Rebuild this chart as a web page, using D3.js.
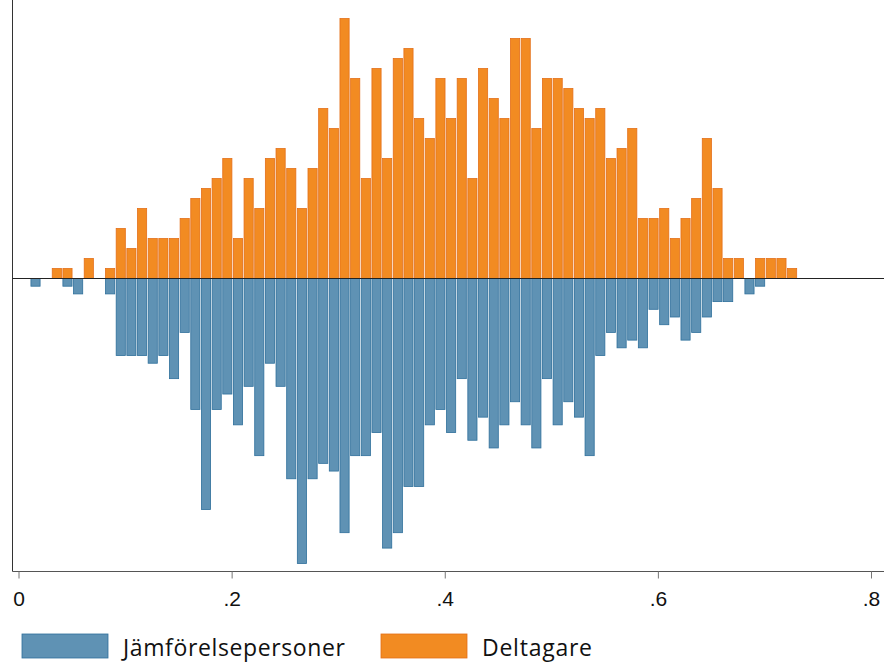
<!DOCTYPE html>
<html>
<head>
<meta charset="utf-8">
<script src="https://cdn.jsdelivr.net/npm/d3@7"></script>
<style>
  body { margin: 0; background: #fff; }
  svg { font-family: "Open Sans", "Noto Sans", sans-serif; }
</style>
</head>
<body>
<svg id="chart" width="885" height="665"></svg>
<script>
// bin starts: 0.0012 + 0.01 * i
const binWidth = 0.01;
const binOffset = 0.0012;

// Deltagare counts, bins 3..72
const deltagareStart = 3;
const deltagare = [1, 1, 0, 2, 0, 1, 5, 3, 7, 4, 4, 4, 6, 8, 9, 10, 12, 4, 10, 7,
  12, 13, 11, 7, 11, 17, 15, 26, 20, 10, 21, 12, 22, 23, 16, 14, 20, 16, 20, 10,
  21, 18, 16, 24, 24, 15, 20, 20, 19, 17, 16, 17, 12, 13, 15, 6, 6, 7, 4, 6,
  8, 14, 9, 2, 2, 0, 2, 2, 2, 1];

// Jämförelsepersoner counts, bins 1..69
const jamforStart = 1;
const jamfor = [1, 0, 0, 1, 2, 0, 0, 2, 10, 10, 10, 11, 10, 13, 7, 17, 30, 17, 15, 19,
  14, 23, 11, 14, 26, 37, 26, 24, 25, 33, 23, 23, 20, 35, 33, 27, 27, 19, 17, 20,
  13, 21, 18, 22, 19, 16, 19, 22, 13, 19, 16, 18, 23, 10, 7, 9, 8, 9, 4, 6,
  5, 8, 7, 5, 3, 3, 0, 2, 1];

const xTicks = [0, 0.2, 0.4, 0.6, 0.8];
const xTickLabels = ["0", ".2", ".4", ".6", ".8"];
const legendLabels = ["Jämförelsepersoner", "Deltagare"];

const blueFill = "#5f92b4", blueEdge = "#2e6f9b";
const orangeFill = "#f28b22", orangeEdge = "#e46f18";

const svg = d3.select("#chart");
const baseY = 278.5;

const x = d3.scaleLinear().domain([0, 0.8]).range([18.5, 871]);
const yUp = d3.scaleLinear().domain([0, 26]).range([baseY, baseY - 260]);
const yDown = d3.scaleLinear().domain([0, 37]).range([baseY, baseY + 285]);

const toBins = (arr, start) => arr.map((v, k) => ({
  x0: binOffset + binWidth * (start + k), v
})).filter(d => d.v > 0);

svg.append("line").attr("x1", 12.5).attr("x2", 12.5).attr("y1", 0).attr("y2", 571.5)
  .attr("stroke", "#333").attr("stroke-width", 1);

svg.append("g").selectAll("rect").data(toBins(jamfor, jamforStart)).join("rect")
  .attr("x", d => x(d.x0) + 0.5)
  .attr("width", d => x(d.x0 + binWidth) - x(d.x0) - 1.5)
  .attr("y", baseY)
  .attr("height", d => yDown(d.v) - baseY)
  .attr("fill", blueFill).attr("stroke", blueEdge).attr("stroke-width", 0.8);

svg.append("g").selectAll("rect").data(toBins(deltagare, deltagareStart)).join("rect")
  .attr("x", d => x(d.x0) + 0.5)
  .attr("width", d => x(d.x0 + binWidth) - x(d.x0) - 1.5)
  .attr("y", d => yUp(d.v))
  .attr("height", d => baseY - yUp(d.v))
  .attr("fill", orangeFill).attr("stroke", orangeEdge).attr("stroke-width", 0.8);

svg.append("line").attr("x1", 12.5).attr("x2", 884).attr("y1", baseY).attr("y2", baseY)
  .attr("stroke", "#222").attr("stroke-width", 1.2);

const xAxis = svg.append("g").attr("transform", "translate(0,571.5)")
  .call(d3.axisBottom(x).tickValues(xTicks).tickFormat((d, i) => xTickLabels[i])
    .tickSize(7).tickPadding(13));
xAxis.select(".domain").attr("d", "M12.5,0H884").attr("stroke", "#555");
xAxis.selectAll(".tick line").attr("stroke", "#777");
xAxis.selectAll("text").attr("font-size", 21).attr("fill", "#111");

const legend = svg.append("g");
[[22, blueFill, blueEdge, 222], [381, orangeFill, orangeEdge, 110]].forEach(([lx, f, e, tl], i) => {
  legend.append("rect").attr("x", lx).attr("y", 634).attr("width", 86).attr("height", 24)
    .attr("fill", f).attr("stroke", e).attr("stroke-width", 0.8);
  legend.append("text").attr("x", lx + 101).attr("y", 656).attr("font-size", 23)
    .attr("textLength", tl).attr("fill", "#111").text(legendLabels[i]);
});
</script>
</body>
</html>
